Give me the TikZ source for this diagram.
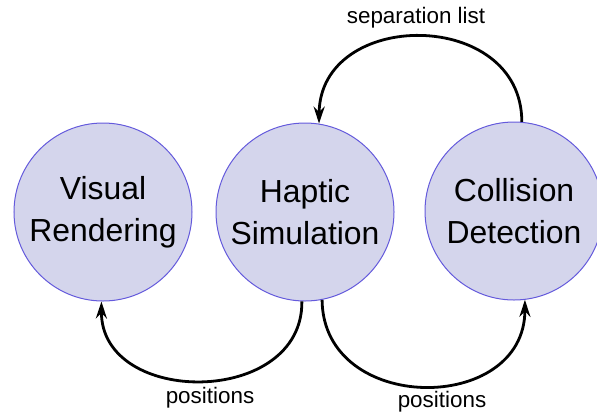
\documentclass[tikz,border=0pt]{standalone}
\usepackage{fontspec}
\setmainfont{Liberation Sans}
\usetikzlibrary{arrows.meta}
\definecolor{cfill}{RGB}{212,213,236}
\definecolor{cdraw}{RGB}{100,90,220}
\begin{document}
\begin{tikzpicture}[x=1bp,y=-1bp,
  proc/.style={circle,draw=cdraw,fill=cfill,line width=1bp,minimum size=178bp,inner sep=0pt,align=center,font=\fontsize{32}{42}\selectfont},
  arr/.style={line width=2.8bp,-{Stealth[length=17bp,width=11bp]}},
  lbl/.style={font=\fontsize{22.5}{24}\selectfont,inner sep=0pt}]
\useasboundingbox (0,0) rectangle (597,416);
\node[proc] (vis) at (103,212) {Visual\\Rendering};
\node[proc] (hap) at (305,212) {Haptic\\Simulation};
\node[proc] (coll) at (514,211) {Collision\\Detection};
\draw[arr] (coll.85) .. controls (522,8) and (320,8) .. (hap.81);
\node[lbl] (sep) at (416,18) {separation list};
\draw[arr] (hap.-92) .. controls (303,407) and (101,407) .. (vis.-91);
\draw[arr] (hap.-79) .. controls (323,415) and (525,415) .. (coll.-83);
\node[lbl] (p1) at (210,398) {positions};
\node[lbl] (p2) at (442,402) {positions};
\end{tikzpicture}
\end{document}
